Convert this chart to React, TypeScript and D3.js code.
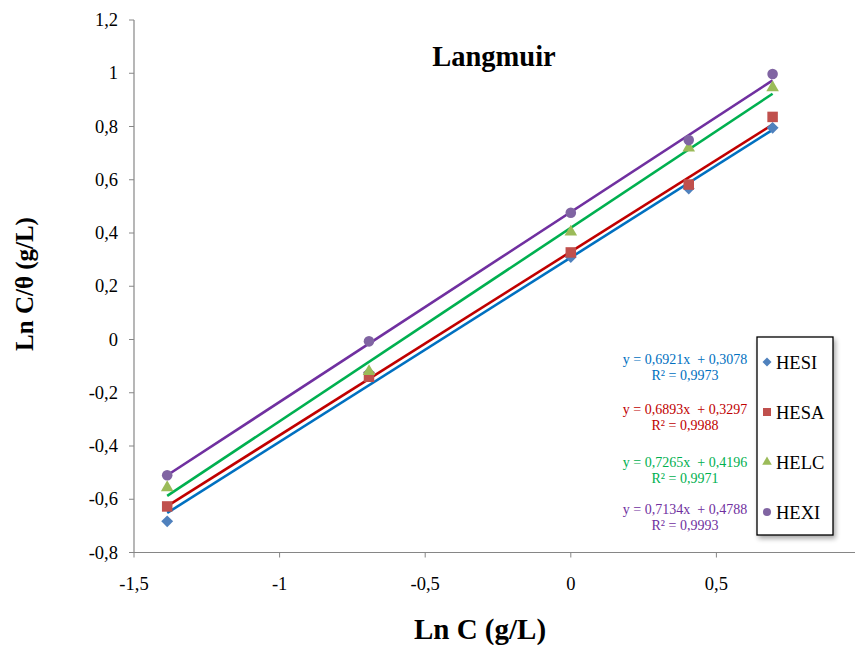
import React from "react";
import * as d3 from "d3";

const xValues = [-1.386, -0.693, 0, 0.405, 0.693];
const seriesNames = ["HESI", "HESA", "HELC", "HEXI"];
const hesi = [-0.683, -0.125, 0.31, 0.567, 0.795];
const hesa = [-0.627, -0.14, 0.327, 0.582, 0.836];
const helc = [-0.556, -0.12, 0.404, 0.72, 0.946];
const hexi = [-0.51, -0.007, 0.476, 0.749, 0.997];
const slopes = [0.6921, 0.6893, 0.7265, 0.7134];
const intercepts = [0.3078, 0.3297, 0.4196, 0.4788];
const equations = ["y = 0,6921x  + 0,3078", "y = 0,6893x  + 0,3297", "y = 0,7265x  + 0,4196", "y = 0,7134x  + 0,4788"];
const r2Labels = ["R² = 0,9973", "R² = 0,9988", "R² = 0,9971", "R² = 0,9993"];
const xTicks = [-1.5, -1, -0.5, 0, 0.5];
const yTicks = [-0.8, -0.6, -0.4, -0.2, 0, 0.2, 0.4, 0.6, 0.8, 1, 1.2];
const markerColors = ["#4F81BD", "#C0504D", "#9BBB59", "#8064A2"];
const lineColors = ["#0070C0", "#C00000", "#00B050", "#7030A0"];
const eqColors = ["#0070C0", "#C00000", "#00B050", "#7030A0"];
const shapes = ["diamond", "square", "triangle", "circle"];

const allSeries = [hesi, hesa, helc, hexi];
const fmt = (v: number) => (Math.round(v * 10) / 10).toString().replace(".", ",");
const FONT = "Liberation Serif, Tinos, Times New Roman, DejaVu Serif, serif";

function Marker({ shape, x, y, color, size }: { shape: string; x: number; y: number; color: string; size: number }) {
  if (shape === "diamond") {
    const h = size * 0.5;
    return <rect x={-h} y={-h} width={size} height={size} fill={color} transform={`translate(${x},${y}) rotate(45) scale(0.8)`} />;
  }
  const symType = shape === "square" ? d3.symbolSquare : shape === "triangle" ? d3.symbolTriangle : d3.symbolCircle;
  const area = shape === "triangle" ? size * size * 0.62 : shape === "circle" ? size * size * 0.8 : size * size;
  const p = d3.symbol().type(symType).size(area)();
  return <path d={p || ""} transform={`translate(${x},${y})`} fill={color} />;
}

export default function App() {
  const x = d3.scaleLinear().domain([-1.5, 1]).range([134, 862]);
  const y = d3.scaleLinear().domain([-0.8, 1.2]).range([552.5, 20]);
  const xMin = d3.min(xValues) as number;
  const xMax = d3.max(xValues) as number;
  const axisColor = "#868686";
  const eqY = [359, 409, 462, 509];
  const legY = [362, 412, 462, 512];
  const textStyle = { fontFamily: FONT };

  return (
    <svg width={855} height={645} style={{ position: "absolute", left: 0, top: 0, background: "#fff" }}>
      <defs>
        <filter id="shadow" x="-20%" y="-20%" width="150%" height="150%">
          <feGaussianBlur in="SourceAlpha" stdDeviation="2.5" />
          <feOffset dx="2" dy="3" result="b" />
          <feComponentTransfer>
            <feFuncA type="linear" slope="0.35" />
          </feComponentTransfer>
          <feMerge>
            <feMergeNode />
            <feMergeNode in="SourceGraphic" />
          </feMerge>
        </filter>
      </defs>
      <rect width={855} height={645} fill="#fff" />
      {/* axes */}
      <line x1={x(-1.5)} x2={855} y1={y(-0.8)} y2={y(-0.8)} stroke={axisColor} strokeWidth={1.2} />
      <line x1={x(-1.5)} x2={x(-1.5)} y1={y(-0.8)} y2={y(1.2)} stroke={axisColor} strokeWidth={1.2} />
      {xTicks.map((t) => (
        <g key={"xt" + t}>
          <line x1={x(t)} x2={x(t)} y1={y(-0.8)} y2={y(-0.8) + 5} stroke={axisColor} strokeWidth={1} />
          <text x={x(t)} y={590} textAnchor="middle" style={textStyle} fontSize={18.5} fill="#000">
            {fmt(t)}
          </text>
        </g>
      ))}
      {yTicks.map((t) => (
        <g key={"yt" + t}>
          <line x1={x(-1.5) - 5} x2={x(-1.5)} y1={y(t)} y2={y(t)} stroke={axisColor} strokeWidth={1} />
          <text x={118} y={y(t) + 6} textAnchor="end" style={textStyle} fontSize={18.5} fill="#000">
            {fmt(t)}
          </text>
        </g>
      ))}
      {/* trend lines */}
      {slopes.map((m, i) => (
        <line
          key={"tl" + i}
          x1={x(xMin)}
          y1={y(m * xMin + intercepts[i])}
          x2={x(xMax)}
          y2={y(m * xMax + intercepts[i])}
          stroke={lineColors[i]}
          strokeWidth={2.6}
        />
      ))}
      {/* markers */}
      {allSeries.map((s, i) =>
        s.map((v, j) => <Marker key={`m${i}-${j}`} shape={shapes[i]} x={x(xValues[j])} y={y(v)} color={markerColors[i]} size={10.5} />)
      )}
      {/* title */}
      <text x={494} y={66} textAnchor="middle" style={textStyle} fontWeight="bold" fontSize={28.5} fill="#000">
        Langmuir
      </text>
      {/* axis titles */}
      <text x={480} y={639} textAnchor="middle" style={textStyle} fontWeight="bold" fontSize={29} fill="#000">
        Ln C (g/L)
      </text>
      <text transform={`translate(33,284) rotate(-90)`} textAnchor="middle" style={textStyle} fontWeight="bold" fontSize={25} fill="#000">
        Ln C/θ (g/L)
      </text>
      {/* equations */}
      {equations.map((e, i) => (
        <g key={"eq" + i}>
          <text x={685} y={eqY[i] + 4.5} textAnchor="middle" style={{ fontFamily: FONT, whiteSpace: "pre" }} fontSize={14} fill={eqColors[i]}>
            {e}
          </text>
          <text x={685} y={eqY[i] + 20.5} textAnchor="middle" style={textStyle} fontSize={14} fill={eqColors[i]}>
            {r2Labels[i]}
          </text>
        </g>
      ))}
      {/* legend */}
      <rect x={757} y={337} width={76} height={198} fill="#fff" stroke="#000" strokeWidth={1.3} filter="url(#shadow)" />
      {seriesNames.map((n, i) => (
        <g key={"lg" + i}>
          <Marker shape={shapes[i]} x={767} y={legY[i]} color={markerColors[i]} size={8} />
          <text x={776} y={legY[i] + 6.5} style={textStyle} fontSize={18.5} fill="#000">
            {n}
          </text>
        </g>
      ))}
    </svg>
  );
}
